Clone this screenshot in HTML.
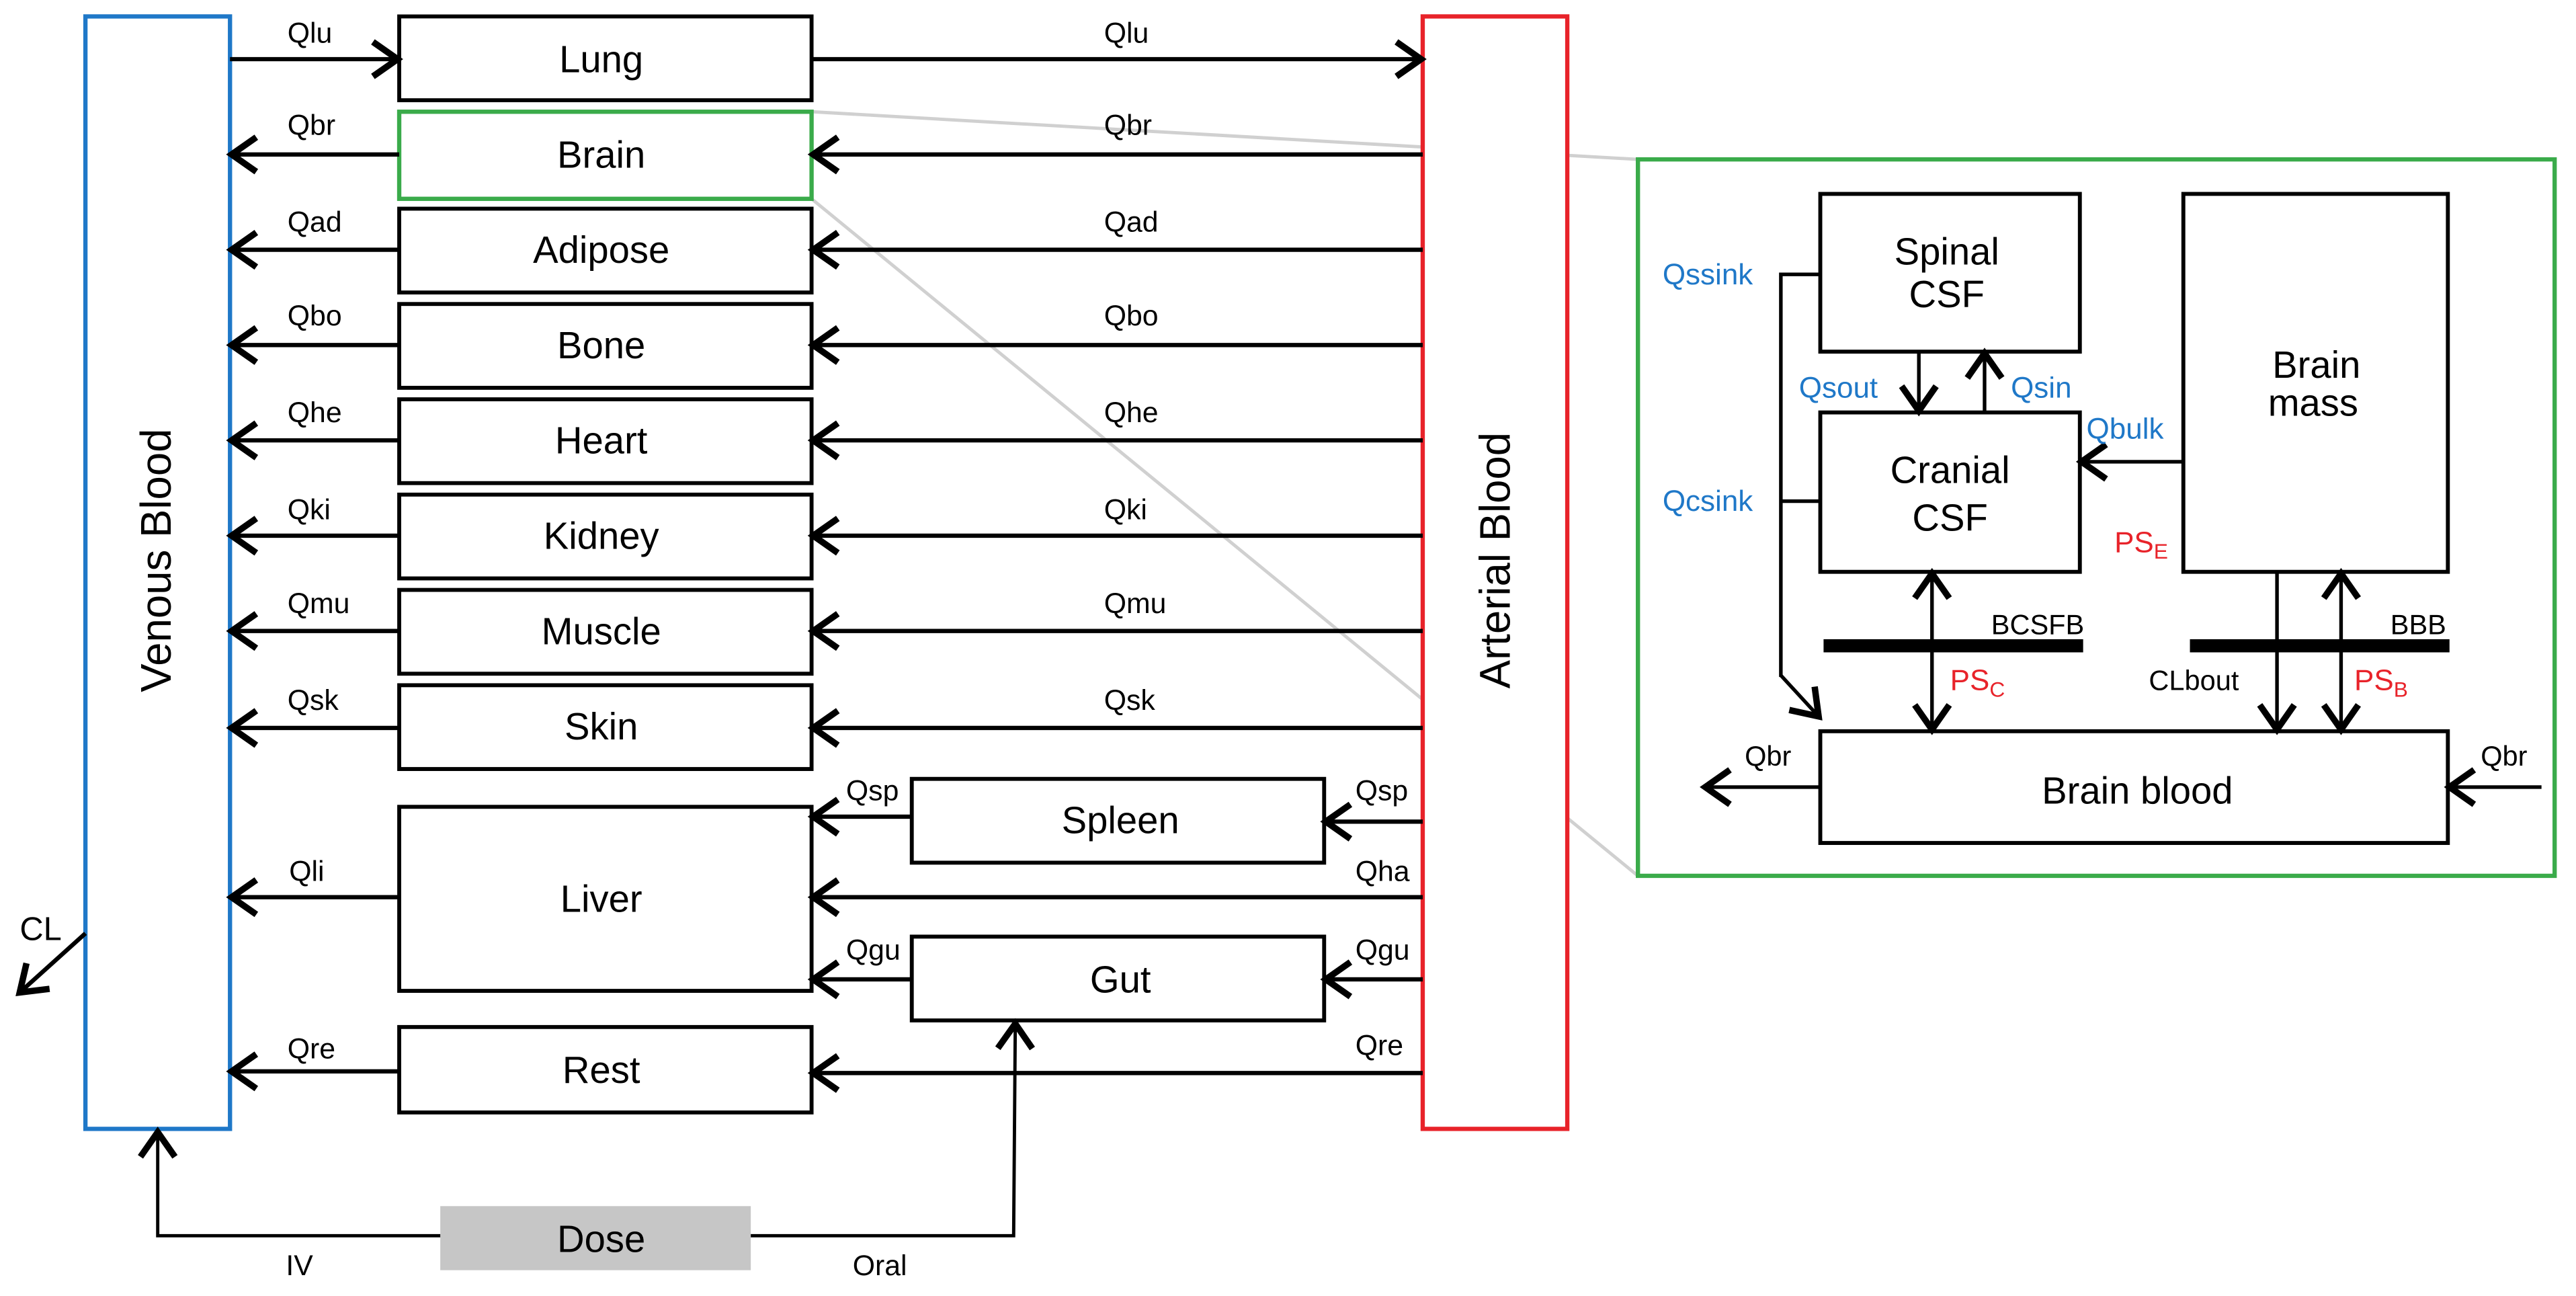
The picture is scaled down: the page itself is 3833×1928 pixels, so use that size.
<!DOCTYPE html>
<html><head><meta charset="utf-8"><style>
html,body{margin:0;padding:0;background:#fff;}
svg{display:block;}
text{font-family:"Liberation Sans",sans-serif;}
</style></head><body>
<svg width="3833" height="1928" viewBox="0 0 1568 788.7" preserveAspectRatio="none" xmlns="http://www.w3.org/2000/svg">
<defs>
<marker id="a" markerUnits="userSpaceOnUse" markerWidth="30" markerHeight="30" refX="0" refY="0" viewBox="-14 -10 16 20" orient="auto">
<path d="M-10,-7 L0,0 L-10,7" fill="none" stroke="#000" stroke-width="2.6"/>
</marker>
</defs>
<rect width="1568" height="789" fill="#fff"/>
<line x1="494" y1="68" x2="997" y2="97" stroke="#d0d0d0" stroke-width="2"/>
<line x1="494" y1="121" x2="997" y2="533" stroke="#d0d0d0" stroke-width="2"/>
<rect x="52" y="10" width="88" height="677" fill="#fff" stroke="#1f78c8" stroke-width="2.6"/>
<rect x="866" y="10" width="88" height="677" fill="#fff" stroke="#e8232a" stroke-width="2.6"/>
<text transform="translate(104,341) rotate(-90)" font-size="26" text-anchor="middle">Venous  Blood</text>
<text transform="translate(919,341) rotate(-90)" font-size="26" text-anchor="middle">Arterial  Blood</text>

<g fill="#fff" stroke="#000" stroke-width="2.4">
<rect x="243" y="10" width="251" height="51"/>
<rect x="243" y="127" width="251" height="51"/>
<rect x="243" y="185" width="251" height="51"/>
<rect x="243" y="243" width="251" height="51"/>
<rect x="243" y="301" width="251" height="51"/>
<rect x="243" y="359" width="251" height="51"/>
<rect x="243" y="417" width="251" height="51"/>
<rect x="243" y="491" width="251" height="112"/>
<rect x="243" y="625" width="251" height="52"/>
<rect x="555" y="474" width="251" height="51"/>
<rect x="555" y="570" width="251" height="51"/>
</g>
<rect x="243" y="68" width="251" height="53" fill="#fff" stroke="#3aab4a" stroke-width="2.6"/>
<rect x="268" y="734" width="189" height="39" fill="#c6c6c6"/>

<g font-size="23" text-anchor="middle">
<text x="366" y="44">Lung</text>
<text x="366" y="102">Brain</text>
<text x="366" y="160">Adipose</text>
<text x="366" y="218">Bone</text>
<text x="366" y="276">Heart</text>
<text x="366" y="334">Kidney</text>
<text x="366" y="392">Muscle</text>
<text x="366" y="450">Skin</text>
<text x="366" y="555">Liver</text>
<text x="366" y="659">Rest</text>
<text x="682" y="507">Spleen</text>
<text x="682" y="604">Gut</text>
<text x="366" y="762">Dose</text>
</g>

<g stroke="#000" stroke-width="2.6" fill="none" marker-end="url(#a)">
<line x1="140" y1="36" x2="242" y2="36"/>
<line x1="494" y1="36" x2="865" y2="36"/>
<line x1="866" y1="94" x2="495" y2="94"/><line x1="243" y1="94" x2="141" y2="94"/>
<line x1="866" y1="152" x2="495" y2="152"/><line x1="243" y1="152" x2="141" y2="152"/>
<line x1="866" y1="210" x2="495" y2="210"/><line x1="243" y1="210" x2="141" y2="210"/>
<line x1="866" y1="268" x2="495" y2="268"/><line x1="243" y1="268" x2="141" y2="268"/>
<line x1="866" y1="326" x2="495" y2="326"/><line x1="243" y1="326" x2="141" y2="326"/>
<line x1="866" y1="384" x2="495" y2="384"/><line x1="243" y1="384" x2="141" y2="384"/>
<line x1="866" y1="443" x2="495" y2="443"/><line x1="243" y1="443" x2="141" y2="443"/>
<line x1="866" y1="500" x2="807" y2="500"/><line x1="555" y1="497" x2="495" y2="497"/>
<line x1="866" y1="546" x2="495" y2="546"/><line x1="243" y1="546" x2="141" y2="546"/>
<line x1="866" y1="596" x2="807" y2="596"/><line x1="555" y1="596" x2="495" y2="596"/>
<line x1="866" y1="653" x2="495" y2="653"/><line x1="243" y1="652" x2="141" y2="652"/>
<line x1="52" y1="568" x2="12" y2="604"/>
<polyline points="268,752 96,752 96,689" stroke-width="2"/>
<polyline points="457,752 617,752 618,623" stroke-width="2"/>
</g>

<g font-size="17.5">
<text x="175" y="26">Qlu</text><text x="672" y="26">Qlu</text>
<text x="175" y="82">Qbr</text><text x="672" y="82">Qbr</text>
<text x="175" y="141">Qad</text><text x="672" y="141">Qad</text>
<text x="175" y="198">Qbo</text><text x="672" y="198">Qbo</text>
<text x="175" y="257">Qhe</text><text x="672" y="257">Qhe</text>
<text x="175" y="316">Qki</text><text x="672" y="316">Qki</text>
<text x="175" y="373">Qmu</text><text x="672" y="373">Qmu</text>
<text x="175" y="432">Qsk</text><text x="672" y="432">Qsk</text>
<text x="515" y="487">Qsp</text><text x="825" y="487">Qsp</text>
<text x="176" y="536">Qli</text><text x="825" y="536">Qha</text>
<text x="515" y="584">Qgu</text><text x="825" y="584">Qgu</text>
<text x="175" y="644">Qre</text><text x="825" y="642">Qre</text>
<text x="174" y="776">IV</text><text x="519" y="776">Oral</text>
<text x="12" y="572" font-size="20">CL</text>
</g>

<rect x="997" y="97" width="558" height="436" fill="#fff" stroke="#3aab4a" stroke-width="2.6"/>
<g fill="#fff" stroke="#000" stroke-width="2.4">
<rect x="1108" y="118" width="158" height="96"/>
<rect x="1108" y="251" width="158" height="97"/>
<rect x="1329" y="118" width="161" height="230"/>
<rect x="1108" y="445" width="382" height="68"/>
</g>
<rect x="1110" y="389" width="158" height="8" fill="#000"/>
<rect x="1333" y="389" width="158" height="8" fill="#000"/>
<g font-size="23" text-anchor="middle">
<text x="1185" y="161">Spinal</text><text x="1185" y="187">CSF</text>
<text x="1187" y="294">Cranial</text><text x="1187" y="323">CSF</text>
<text x="1410" y="230">Brain</text><text x="1408" y="253">mass</text>
<text x="1301" y="489">Brain  blood</text>
</g>
<g stroke="#000" stroke-width="2.2" fill="none">
<polyline points="1108,167 1084,167 1084,412"/>
<line x1="1084" y1="305" x2="1108" y2="305"/>
</g>
<g stroke="#000" stroke-width="2.2" fill="none" marker-end="url(#a)">
<line x1="1084" y1="411" x2="1107" y2="436"/>
<line x1="1168" y1="214" x2="1168" y2="250"/>
<line x1="1208" y1="251" x2="1208" y2="215"/>
<line x1="1329" y1="281" x2="1267" y2="281"/>
<line x1="1176" y1="396" x2="1176" y2="349"/>
<line x1="1176" y1="396" x2="1176" y2="444"/>
<line x1="1386" y1="348" x2="1386" y2="444"/>
<line x1="1425" y1="396" x2="1425" y2="349"/>
<line x1="1425" y1="396" x2="1425" y2="444"/>
<line x1="1108" y1="479" x2="1038" y2="479"/>
<line x1="1547" y1="479" x2="1491" y2="479"/>
</g>
<g font-size="18" fill="#1f78c8">
<text x="1012" y="173">Qssink</text>
<text x="1012" y="311">Qcsink</text>
<text x="1095" y="242">Qsout</text>
<text x="1224" y="242">Qsin</text>
<text x="1270" y="267">Qbulk</text>
</g>
<g font-size="18" fill="#e8232a">
<text x="1287" y="336">PS<tspan font-size="13" dy="4">E</tspan></text>
<text x="1187" y="420">PS<tspan font-size="13" dy="4">C</tspan></text>
<text x="1433" y="420">PS<tspan font-size="13" dy="4">B</tspan></text>
</g>
<g font-size="17">
<text x="1212" y="386">BCSFB</text>
<text x="1455" y="386">BBB</text>
<text x="1308" y="420">CLbout</text>
<text x="1062" y="466">Qbr</text>
<text x="1510" y="466">Qbr</text>
</g>
</svg>
</body></html>
